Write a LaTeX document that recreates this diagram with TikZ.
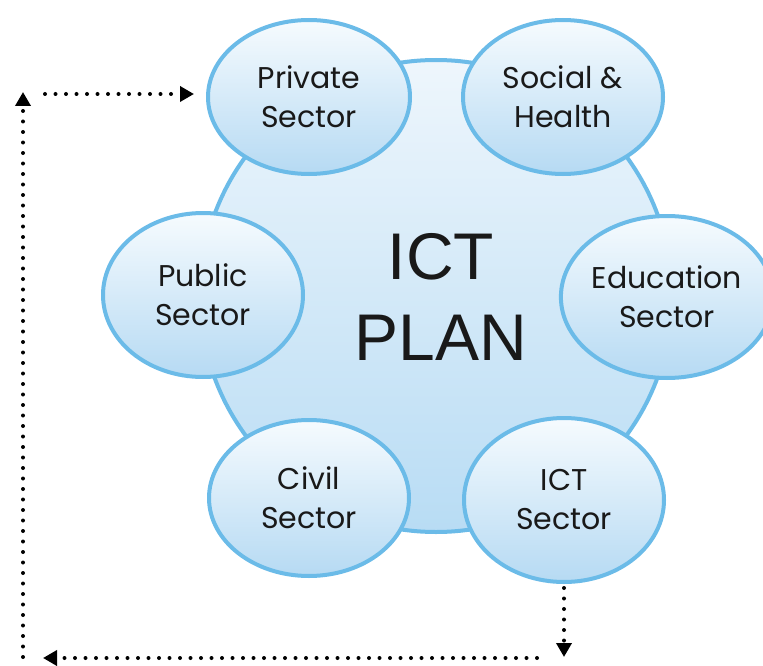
\documentclass[tikz,border=0pt]{standalone}
\usepackage{fontspec}
\setmainfont{Liberation Sans}
\newfontfamily\satfont{Poppins}
\usetikzlibrary{shapes.geometric,arrows.meta}
\definecolor{rim}{HTML}{6BBBE8}
\definecolor{filltop}{HTML}{F6FBFE}
\definecolor{fillbot}{HTML}{B6DAF3}
\definecolor{bigtop}{HTML}{EEF6FC}
\definecolor{bigbot}{HTML}{B8DCF4}
\begin{document}
\begin{tikzpicture}[x=1pt,y=-1pt,
  sat/.style={ellipse, draw=rim, line width=4pt, top color=filltop, bottom color=fillbot,
    minimum width=200pt, minimum height=160pt, inner sep=0pt, align=center,
    font=\satfont\fontsize{30}{39}\selectfont, text=black!90},
  hub/.style={circle, draw=rim, line width=4pt, top color=bigtop, bottom color=bigbot,
    minimum size=472pt, inner sep=0pt},
  flow/.style={line width=4pt, line cap=round, dash pattern=on 0pt off 10.5pt,
    -{Triangle[width=15pt,length=14pt]}}
]
\useasboundingbox (0,0) rectangle (763,666);
\node[hub] (hub) at (436,296) {};
\node[sat, minimum width=202pt, minimum height=154pt] (priv) at (309,97) {Private\\Sector};
\node[sat, minimum height=154pt] (soc) at (563,97) {Social \&\\Health};
\node[sat, minimum height=164pt] (pub) at (203,295) {Public\\Sector};
\node[sat, minimum width=190pt, minimum height=162pt] (edu) at (667,297) {Education\\Sector};
\node[sat, minimum height=156pt] (civ) at (309,498) {Civil\\Sector};
\node[sat, minimum height=164pt] (ictsec) at (564,500) {ICT\\Sector};
\node[font=\fontsize{66}{81}\selectfont, align=center, text=black!90] (plan) at (441,297) {ICT\\PLAN};
\coordinate (d1) at (564,657);
\coordinate (b1) at (537,658);
\coordinate (b2) at (43,658);
\coordinate (l1) at (23,657);
\coordinate (l2) at (23,92);
\coordinate (t1) at (45,94);
\draw[flow, shorten <=4pt] (ictsec) -- (d1);
\draw[flow] (b1) -- (b2);
\draw[flow] (l1) -- (l2);
\draw[flow, shorten >=12pt] (t1) -- (t1 -| priv.west);
\end{tikzpicture}
\end{document}
